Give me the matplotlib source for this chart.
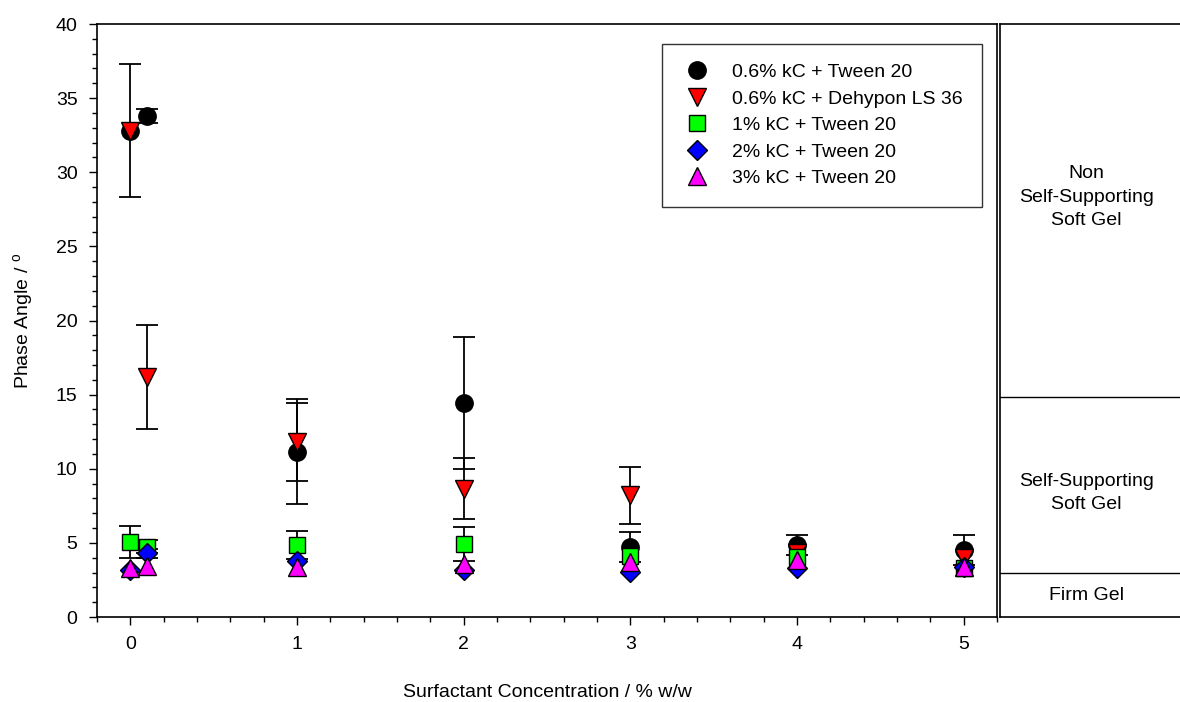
import matplotlib
matplotlib.use("Agg")
import matplotlib.pyplot as plt
from matplotlib.ticker import MultipleLocator

plt.rcParams['font.family'] = ['Liberation Sans', 'DejaVu Sans']

# Surfactant concentration (% w/w) and phase angle (deg) for each gel system
x_tw06 = [0.0, 0.1, 1, 2, 3, 4, 5]
y_tw06 = [32.8, 33.8, 11.15, 14.45, 4.7, 4.85, 4.5]
e_tw06 = [4.5, 0.5, 3.55, 4.45, 1.0, 0.7, 1.0]

x_dh06 = [0.0, 0.1, 1, 2, 3, 4, 5]
y_dh06 = [32.8, 16.2, 11.8, 8.65, 8.2, 4.3, 4.0]
e_dh06 = [0.0, 3.5, 2.65, 2.05, 1.95, 0.0, 0.0]

x_tw1 = [0.0, 0.1, 1, 2, 3, 4, 5]
y_tw1 = [5.05, 4.75, 4.85, 4.9, 4.1, 4.05, 3.3]
e_tw1 = [1.1, 0.45, 0.95, 1.15, 0.0, 0.0, 0.0]

x_tw2 = [0.0, 0.1, 1, 2, 3, 4, 5]
y_tw2 = [3.2, 4.3, 3.75, 3.2, 3.05, 3.3, 3.4]
e_tw2 = [0.0, 0.3, 0.0, 0.0, 0.0, 0.0, 0.0]

x_tw3 = [0.0, 0.1, 1, 2, 3, 4, 5]
y_tw3 = [3.3, 3.45, 3.4, 3.55, 3.7, 3.85, 3.35]
e_tw3 = [0.0, 0.0, 0.0, 0.0, 0.0, 0.0, 0.0]

labels = ["0.6% kC + Tween 20", "0.6% kC + Dehypon LS 36",
          "1% kC + Tween 20", "2% kC + Tween 20", "3% kC + Tween 20"]

# Gel-type regions (phase angle boundaries) shown in the side panel
region_bounds = [3.0, 14.85]
region_names = ["Firm Gel", "Self-Supporting\nSoft Gel",
                "Non\nSelf-Supporting\nSoft Gel"]
region_label_y = [1.42, 8.36, 28.33]

FS = 14

fig = plt.figure(figsize=(11.8, 7.02), dpi=100)
ax = fig.add_axes([97 / 1180, 85 / 702, 900 / 1180, 593 / 702])

series = [
    (x_tw06, y_tw06, e_tw06, 'o', 'black', 12.5),
    (x_dh06, y_dh06, e_dh06, 'v', 'red', 13),
    (x_tw1, y_tw1, e_tw1, 's', '#00ff00', 11),
    (x_tw2, y_tw2, e_tw2, 'D', 'blue', 10),
    (x_tw3, y_tw3, e_tw3, '^', 'magenta', 13),
]
handles = []
for (xs, ys, es, mk, col, ms), lab in zip(series, labels):
    pts = [(a, b, c) for a, b, c in zip(xs, ys, es) if c > 0]
    if pts:
        ex, ey, ee = zip(*pts)
        ax.errorbar(ex, ey, yerr=ee, fmt='none', ecolor='black',
                    elinewidth=1.3, capsize=8, capthick=1.3, zorder=2)
    h, = ax.plot(xs, ys, linestyle='none', marker=mk, markersize=ms,
                 markerfacecolor=col, markeredgecolor='black',
                 markeredgewidth=1.0, zorder=3, label=lab)
    handles.append(h)

ax.set_xlim(-0.2, 5.2)
ax.set_ylim(0, 40)
ax.xaxis.set_major_locator(MultipleLocator(1))
ax.xaxis.set_minor_locator(MultipleLocator(0.2))
ax.yaxis.set_major_locator(MultipleLocator(5))
ax.yaxis.set_minor_locator(MultipleLocator(1))
ax.tick_params(which='both', direction='out', top=False, right=False,
               width=1.0, labelsize=FS)
ax.tick_params(which='major', length=6, pad=8)
ax.tick_params(which='minor', length=3.5)
for sp in ax.spines.values():
    sp.set_linewidth(1.2)

ax.set_xlabel("Surfactant Concentration / % w/w", fontsize=FS, labelpad=22)
ax.set_ylabel(r"Phase Angle / $^\mathregular{o}$", fontsize=FS, labelpad=14)

leg = ax.legend(handles=handles, loc='upper right', fontsize=FS,
                frameon=True, fancybox=False, edgecolor='black',
                borderpad=1.0, labelspacing=0.46, handlelength=1.6,
                handletextpad=1.0, borderaxespad=0)
leg.set_bbox_to_anchor((982 / 1180, 658 / 702), transform=fig.transFigure)
leg.get_frame().set_linewidth(1.0)

# Side panel with gel classification
pan = fig.add_axes([1000 / 1180, 85 / 702, 180 / 1180, 593 / 702])
pan.set_xlim(0, 1)
pan.set_ylim(0, 40)
pan.set_xticks([])
pan.set_yticks([])
pan.spines['right'].set_visible(False)
for k in ('left', 'top', 'bottom'):
    pan.spines[k].set_linewidth(1.2)
for b in region_bounds:
    pan.axhline(b, color='black', linewidth=1.0)
for name, yy in zip(region_names, region_label_y):
    pan.text(0.48, yy, name, ha='center', va='center', fontsize=FS,
             linespacing=1.5)

fig.savefig("out.png", dpi=100)
